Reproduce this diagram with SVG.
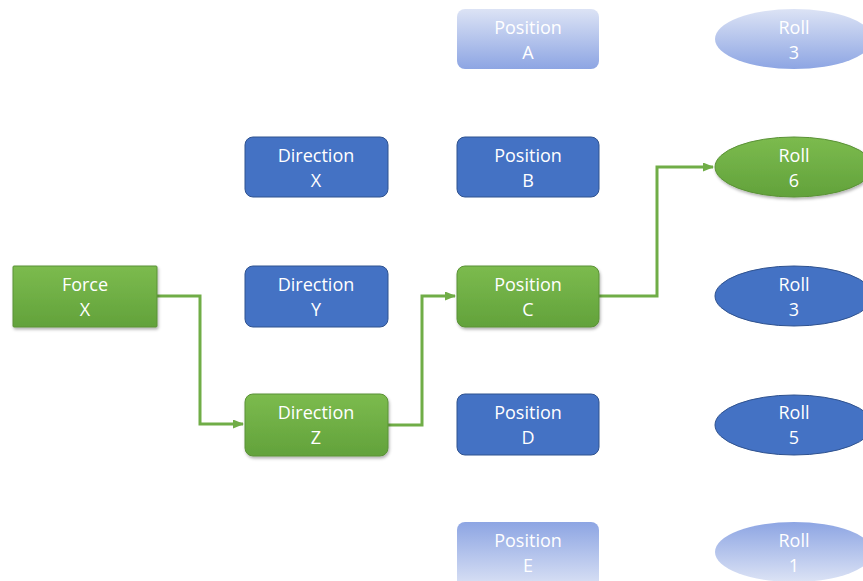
<svg xmlns="http://www.w3.org/2000/svg" width="863" height="581" viewBox="0 0 863 581">
<defs>
<linearGradient id="gGreen" x1="0" y1="0" x2="0" y2="1"><stop offset="0" stop-color="#7CBB4E"/><stop offset="1" stop-color="#62A23B"/></linearGradient>
<linearGradient id="gFadeDown" x1="0" y1="0" x2="0" y2="1"><stop offset="0" stop-color="#DCE3F5"/><stop offset="1" stop-color="#8DA5E3"/></linearGradient>
<linearGradient id="gFadeUp" x1="0" y1="0" x2="0" y2="1"><stop offset="0" stop-color="#8DA5E3"/><stop offset="1" stop-color="#DCE3F5"/></linearGradient>
<filter id="sh" x="-10%" y="-10%" width="125%" height="135%"><feDropShadow dx="1" dy="2" stdDeviation="1.5" flood-color="#000" flood-opacity="0.3"/></filter>
<marker id="arr" markerWidth="11" markerHeight="9" refX="10" refY="4.5" orient="auto" markerUnits="userSpaceOnUse"><path d="M0,0 L11,4.5 L0,9 z" fill="#70AD47"/></marker>
</defs>
<style>
.blue{fill:#4472C4;stroke:#2F528F;stroke-width:1}
.green{fill:url(#gGreen);stroke:#5A9236;stroke-width:1;filter:url(#sh)}
.fd{fill:url(#gFadeDown);stroke:none}
.fu{fill:url(#gFadeUp);stroke:none}
text{font-family:"Open Sans","Liberation Sans",sans-serif;font-size:18px;fill:#fff;text-anchor:middle}
.conn{fill:none;stroke:#70AD47;stroke-width:3}
</style>
<rect width="863" height="581" fill="#fff"/>
<g id="connectors">
<polyline class="conn" points="157,296 200,296 200,424 243,424" marker-end="url(#arr)"/>
<polyline class="conn" points="388,425 422,425 422,296 455,296" marker-end="url(#arr)"/>
<polyline class="conn" points="599,296 657,296 657,167 713,167" marker-end="url(#arr)"/>
</g>
<g id="forceX"><rect class="green" x="13" y="266" width="144" height="61" rx="1"/><text x="85" y="291">Force</text><text x="85" y="316">X</text></g>
<g id="dirX"><rect class="blue" x="245" y="137" width="143" height="60" rx="8"/><text x="316" y="162">Direction</text><text x="316" y="187">X</text></g>
<g id="dirY"><rect class="blue" x="245" y="266" width="143" height="61" rx="8"/><text x="316" y="291">Direction</text><text x="316" y="316">Y</text></g>
<g id="dirZ"><rect class="green" x="245" y="394" width="143" height="62" rx="8"/><text x="316" y="419">Direction</text><text x="316" y="444">Z</text></g>
<g id="posA"><rect class="fd" x="457" y="9" width="142" height="60" rx="8"/><text x="528" y="34">Position</text><text x="528" y="59">A</text></g>
<g id="posB"><rect class="blue" x="457" y="137" width="142" height="60" rx="8"/><text x="528" y="162">Position</text><text x="528" y="187">B</text></g>
<g id="posC"><rect class="green" x="457" y="266" width="142" height="61" rx="8"/><text x="528" y="291">Position</text><text x="528" y="316">C</text></g>
<g id="posD"><rect class="blue" x="457" y="394" width="142" height="61" rx="8"/><text x="528" y="419">Position</text><text x="528" y="444">D</text></g>
<g id="posE"><rect class="fu" x="457" y="522" width="142" height="66" rx="8"/><text x="528" y="547">Position</text><text x="528" y="572">E</text></g>
<g id="roll3a"><ellipse class="fd" cx="794" cy="39" rx="79" ry="30"/><text x="794" y="34">Roll</text><text x="794" y="59">3</text></g>
<g id="roll6"><ellipse class="green" cx="794" cy="167" rx="79" ry="30"/><text x="794" y="162">Roll</text><text x="794" y="187">6</text></g>
<g id="roll3b"><ellipse class="blue" cx="794" cy="296" rx="79" ry="30"/><text x="794" y="291">Roll</text><text x="794" y="316">3</text></g>
<g id="roll5"><ellipse class="blue" cx="794" cy="425" rx="79" ry="30"/><text x="794" y="419">Roll</text><text x="794" y="444">5</text></g>
<g id="roll1"><ellipse class="fu" cx="794" cy="552" rx="79" ry="30"/><text x="794" y="547">Roll</text><text x="794" y="572">1</text></g>
</svg>
